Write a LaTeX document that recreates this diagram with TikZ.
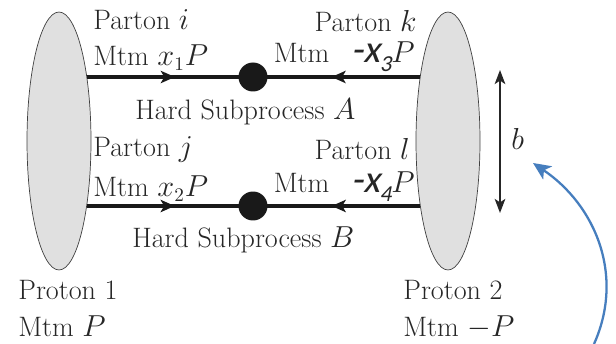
\documentclass[tikz,border=0pt]{standalone}
\usepackage{fontspec}
\newfontfamily\calib{Carlito}[AutoFakeSlant=0.2]
\usetikzlibrary{shapes.geometric,arrows.meta,decorations.markings}
\definecolor{noteblue}{RGB}{70,126,190}
\newcommand{\mtmneg}[1]{Mtm\hspace{8pt} {\calib\fontsize{22}{22}\selectfont\itshape -x\raisebox{-5pt}{\fontsize{13}{13}\selectfont #1}}$P$}

\begin{document}
\begin{tikzpicture}[x=0.02cm, y=-0.02cm,
    proton/.style={ellipse, draw=black!75, thin, fill=black!12, minimum width=1.28cm, minimum height=5.16cm, inner sep=0pt, outer sep=0pt},
    vertex/.style={circle, fill=black!90, minimum size=0.58cm, inner sep=0pt, outer sep=0pt},
    parton/.style={line width=1.8pt, black!90, postaction={decorate}, decoration={markings, mark=at position 0.58 with {\arrow{Stealth[length=8pt,width=7pt,inset=2pt]}}}},
    lbl/.style={font=\fontsize{16}{19}\selectfont, text=black!85, inner sep=0pt},
    sep/.style={<->, >={Stealth[length=8pt,width=6pt,inset=2pt]}, line width=1.2pt, black!85},
    note/.style={->, >={Stealth[length=10pt,width=9pt,inset=2.5pt]}, line width=1.3pt, color=noteblue}
]
\useasboundingbox (0,0) rectangle (616,344);

% Protons
\node[proton] (p1) at (59,141) {};
\node[proton] (p2) at (448,141) {};

% Hard subprocess vertices
\node[vertex] (hA) at (253,77) {};
\node[vertex] (hB) at (253,206) {};

% Partons
\draw[parton] (p1.66 |- hA) -- (hA);
\draw[parton] (p2.114 |- hA) -- (hA);
\draw[parton] (p1.293 |- hB) -- (hB);
\draw[parton] (p2.247 |- hB) -- (hB);

% Labels, upper subprocess
\node[lbl, anchor=base west] (pi) at (93,30) {Parton $i$};
\node[lbl, anchor=base west] (mi) at (93,66) {Mtm $x_1P$};
\node[lbl, anchor=base east] (pk) at (417,32) {Parton $k$};
\node[lbl, anchor=base east] (mk) at (415,63) {\mtmneg{3}};
\node[lbl, anchor=base west] (sA) at (135,120) {Hard Subprocess $A$};

% Labels, lower subprocess
\node[lbl, anchor=base west] (pj) at (93,157) {Parton $j$};
\node[lbl, anchor=base west] (mj) at (93,197) {Mtm $x_2P$};
\node[lbl, anchor=base east] (pl) at (410,160) {Parton $l$};
\node[lbl, anchor=base east] (ml) at (415,193) {\mtmneg{4}};
\node[lbl, anchor=base west] (sB) at (132,248) {Hard Subprocess $B$};

% Proton labels
\node[lbl, anchor=base west] (pr1) at (18,300) {Proton 1};
\node[lbl, anchor=base west] (mp1) at (18,337) {Mtm $P$};
\node[lbl, anchor=base west] (pr2) at (403,300) {Proton 2};
\node[lbl, anchor=base west] (mp2) at (403,337) {Mtm $-P$};

% Separation b
\coordinate (btop) at (500,70);
\coordinate (bbot) at (500,213);
\draw[sep] (btop) -- (bbot);
\node[lbl, anchor=base west] (blab) at (511,150) {$b$};

% Pointer
\coordinate (nstart) at (594,344);
\coordinate (ntip) at (533,163);
\draw[note] (nstart) .. controls (625,275) and (595,205) .. (ntip);

\end{tikzpicture}
\end{document}
